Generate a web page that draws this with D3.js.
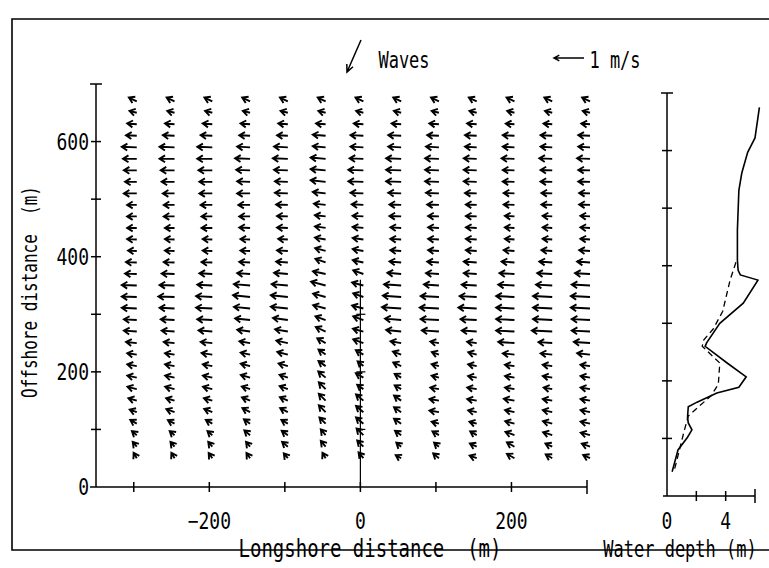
<!DOCTYPE html>
<html><head><meta charset="utf-8">
<script src="https://cdn.jsdelivr.net/npm/d3@7"></script>
<style>
html,body{margin:0;padding:0;background:#fff;}
svg{display:block;}
text{font-family:"DejaVu Sans Mono","Liberation Mono",monospace;fill:#000;white-space:pre;}
</style></head><body>
<svg id="chart" width="769" height="568"></svg>
<script>
// ---- data ----
const columnsX = [-300,-250,-200,-150,-100,-50,0,50,100,150,200,250,300];
const rowsY = [670,650,630,610,590,570,550,530,510,490,470,450,430,410,390,370,350,330,310,290,270,250,230,210,190,170,150,130,110,90,70,50];
// current speed (cm/s), one array per column, rows top to bottom
const speedCm = [
  [29,25,32,36,50,46,43,39,43,32,32,32,32,29,36,39,50,50,50,43,43,36,32,32,32,32,29,25,25,21,21,21],
  [29,25,32,39,50,50,46,43,39,36,36,32,32,32,36,43,50,54,50,46,43,36,32,32,32,32,29,29,25,21,21,21],
  [29,25,32,39,50,50,46,43,43,39,36,36,32,32,36,43,50,54,54,50,46,39,36,32,32,32,29,29,25,21,21,21],
  [29,25,32,36,43,50,46,43,43,39,36,36,32,32,36,43,54,57,54,50,43,36,32,32,32,29,29,29,25,25,21,21],
  [29,25,32,36,46,50,46,43,43,39,36,36,32,36,39,46,54,57,57,50,43,39,36,32,29,29,29,29,25,25,25,21],
  [29,25,32,43,43,50,50,50,43,39,36,36,36,36,36,43,50,43,43,36,36,32,29,29,32,32,32,32,29,25,25,21],
  [29,25,32,43,43,46,50,50,43,39,36,36,36,36,36,36,39,36,39,36,36,36,29,25,29,25,32,32,32,32,29,25],
  [29,25,32,43,43,50,50,50,43,39,39,36,36,36,39,46,57,61,64,54,50,36,29,29,25,25,29,29,29,25,21,21],
  [29,25,32,39,43,46,46,46,43,39,36,36,36,36,39,43,50,61,64,61,57,29,25,25,25,29,32,32,25,25,21,25],
  [29,25,32,39,39,43,43,43,39,36,36,36,36,36,43,43,50,57,61,54,50,32,29,29,29,32,32,29,25,25,25,25],
  [29,25,29,39,39,43,39,39,36,36,32,32,32,36,43,50,54,61,61,61,61,54,39,32,32,32,36,32,32,32,29,29],
  [29,25,29,39,39,43,39,39,36,36,32,32,32,36,43,50,54,64,64,64,68,46,39,32,32,29,32,32,32,32,25,25],
  [29,25,29,39,39,43,39,39,36,36,32,32,32,36,43,50,61,64,64,61,61,54,43,32,32,32,32,32,32,32,29,25]
];
// tilt of the current above the longshore (westward) direction, degrees
const tiltDeg = [
  [25,15,5,3,2,0,0,0,0,0,0,0,2,2,2,2,2,2,3,3,4,6,8,10,12,14,16,20,30,40,50,60],
  [25,15,5,3,2,0,0,0,0,0,0,0,2,2,2,2,2,2,3,3,4,6,8,10,12,14,16,20,28,40,50,60],
  [25,15,5,3,2,0,0,0,0,0,0,0,2,2,2,3,3,3,3,3,5,6,8,10,12,14,16,22,30,40,50,55],
  [25,15,5,3,3,2,2,2,0,0,0,2,2,2,3,4,5,6,6,6,8,10,12,14,16,18,22,28,35,40,50,55],
  [25,15,5,3,3,2,2,2,2,2,2,2,3,3,4,5,5,6,6,8,10,12,14,16,18,20,24,28,30,35,40,50],
  [25,15,5,5,5,5,5,6,6,6,6,8,10,15,20,12,15,15,15,20,25,30,35,35,40,45,45,45,45,50,50,60],
  [25,15,5,3,3,2,2,2,2,3,3,5,8,10,12,20,15,20,15,20,15,20,30,40,30,35,40,40,40,45,45,50],
  [25,15,5,3,3,2,2,2,2,2,2,3,3,4,5,5,4,4,4,5,6,10,20,25,30,30,35,35,35,35,40,30],
  [25,15,5,3,3,2,2,2,2,2,2,3,3,4,4,4,4,3,3,3,4,10,20,15,15,10,10,10,15,30,40,40],
  [25,15,5,3,3,2,2,2,2,2,2,3,3,4,4,4,3,3,3,3,4,8,15,12,10,10,10,12,15,30,25,20],
  [25,15,5,3,3,2,2,2,2,2,3,3,4,4,4,3,3,3,3,3,3,4,6,8,10,10,10,12,15,20,30,30],
  [25,15,5,3,3,2,2,2,2,2,3,3,4,4,4,3,3,3,3,3,3,4,6,8,10,10,10,12,15,18,25,30],
  [25,15,5,3,3,2,2,2,2,2,3,3,4,4,4,3,3,3,3,3,3,4,6,8,10,10,10,12,12,15,20,25]
];
const refSpeedCm = 100;           // legend arrow: 1 m/s
const xTicks = [-300,-200,-100,0,100,200];
const xTickLabels = [-200,0,200];
const yTicks = [100,200,300,400,500,600];
const yTickLabels = [0,200,400,600];
const centreTicks = [100,200,300];
// water depth profiles (offshore distance m, depth m)
const depthSolidY = [675,622,597,561,531,462,410,392,384,375,335,300,266,260,231,207,189,179,163,155,137,127,115,102,80,42];
const depthSolid  = [6.3,6.0,5.5,5.1,4.9,4.8,4.8,4.85,5.0,6.2,5.2,3.6,2.7,2.6,4.1,5.4,4.9,3.4,2.05,1.45,1.4,1.45,1.7,1.4,0.75,0.35];
const depthDashedY = [406,375,321,290,271,260,231,194,174,156,139,111,75,45];
const depthDashed  = [4.7,4.3,3.8,3.15,2.5,2.4,3.6,3.5,3.0,2.2,1.45,1.15,0.8,0.5];
const depthTicks = [2,4];
const depthTickLabels = [0,4];
const depthYTicks = [100,200,300,400,500,600];

// ---- drawing ----
const svg = d3.select("#chart");
const x = d3.scaleLinear().domain([-350,300]).range([96,587]);
const y = d3.scaleLinear().domain([0,700]).range([487,84]);
const len = d3.scaleLinear().domain([0,100]).range([0,30]);
const xD = d3.scaleLinear().domain([0,6]).range([667,755]);
const yD = d3.scaleLinear().domain([0,700]).range([496,93]);
const SW = 1.5;

// frame
svg.append("path").attr("d","M769,19 L12,19 L12,550 L769,550")
  .attr("fill","none").attr("stroke","#000").attr("stroke-width",1.6);

function arrowPath(x0,y0,L,tiltD,head,angDeg){
  const t = tiltD*Math.PI/180;
  const dx = -Math.cos(t), dy = -Math.sin(t);
  const x1 = x0 + dx*L, y1 = y0 + dy*L;
  const a = (angDeg||30)*Math.PI/180;
  const bx = -dx, by = -dy;
  const b1x = x1 + head*(bx*Math.cos(a) - by*Math.sin(a));
  const b1y = y1 + head*(bx*Math.sin(a) + by*Math.cos(a));
  const b2x = x1 + head*(bx*Math.cos(-a) - by*Math.sin(-a));
  const b2y = y1 + head*(bx*Math.sin(-a) + by*Math.cos(-a));
  return `M${x0},${y0}L${x1},${y1}M${b1x},${b1y}L${x1},${y1}L${b2x},${b2y}`;
}

// vectors
const vec = [];
columnsX.forEach((cx,i)=>rowsY.forEach((ry,j)=>{
  const s = speedCm[i][j];
  if (s!=null) vec.push({cx,ry,s,t:tiltDeg[i][j]});
}));
svg.append("g").selectAll("path").data(vec).join("path")
  .attr("d",d=>arrowPath(x(d.cx)+3,y(d.ry),len(d.s),d.t,6.5,32))
  .attr("fill","none").attr("stroke","#000").attr("stroke-width",1.9)
  .attr("stroke-linejoin","miter");

// main axes
const ax = svg.append("g").attr("stroke","#000").attr("stroke-width",SW).attr("fill","none");
ax.append("line").attr("x1",90).attr("x2",x(300)).attr("y1",y(0)).attr("y2",y(0));
ax.append("line").attr("x1",x(-350)).attr("x2",x(-350)).attr("y1",y(0)).attr("y2",y(700));
ax.selectAll(".xt").data(xTicks).join("line").attr("x1",d=>x(d)).attr("x2",d=>x(d)).attr("y1",y(0)-5).attr("y2",y(0)+5);
ax.append("line").attr("x1",x(300)).attr("x2",x(300)).attr("y1",y(0)-7).attr("y2",y(0)+7);
ax.selectAll(".yt").data(yTicks).join("line").attr("x1",x(-350)-5).attr("x2",x(-350)+5).attr("y1",d=>y(d)).attr("y2",d=>y(d));
ax.append("line").attr("x1",x(-350)-6).attr("x2",x(-350)+6).attr("y1",y(700)).attr("y2",y(700));
// centre line at x = 0
ax.append("line").attr("x1",x(0)).attr("x2",x(0)).attr("y1",y(0)).attr("y2",y(360)).attr("stroke-width",1.2);
ax.selectAll(".ct").data(centreTicks).join("line").attr("x1",x(0)-4).attr("x2",x(0)+5).attr("y1",d=>y(d)).attr("y2",d=>y(d)).attr("stroke-width",1.2);

function label(g, tx, ty, str, size, anchor, rot){
  const gg = g.append("g").attr("transform",`translate(${tx},${ty})${rot?` rotate(${rot})`:""} scale(1,1.3)`);
  gg.append("text").attr("x",0).attr("y",0).attr("text-anchor",anchor||"middle")
    .attr("font-size",size).text(str);
}
const tg = svg.append("g");
xTickLabels.forEach(v=>label(tg, x(v), 529, String(v).replace("-","\u2212"), 18, "middle"));
yTickLabels.forEach(v=>label(tg, 89, y(v)+8, String(v), 18, "end"));
label(tg, 370, 557, "Longshore distance  (m)", 19, "middle");
label(tg, 37, 292, "Offshore distance  (m)", 16, "middle", -90);
label(tg, 680, 557, "Water depth (m)", 17, "middle");
label(tg, 404, 68, "Waves", 17, "middle");
label(tg, 615, 68, "1 m/s", 17, "middle");

// waves arrow
svg.append("path").attr("d",(()=>{
  const x0=361,y0=40,x1=347,y1=72;
  const ang=Math.atan2(y0-y1,x0-x1), a=25*Math.PI/180, h=8;
  return `M${x0},${y0}L${x1},${y1}M${x1+h*Math.cos(ang+a)},${y1+h*Math.sin(ang+a)}L${x1},${y1}L${x1+h*Math.cos(ang-a)},${y1+h*Math.sin(ang-a)}`;
})()).attr("fill","none").attr("stroke","#000").attr("stroke-width",1.5);
// legend arrow 1 m/s
svg.append("path").attr("d",arrowPath(584,58,len(refSpeedCm),0,6,28))
  .attr("fill","none").attr("stroke","#000").attr("stroke-width",1.5);

// depth panel
const dg = svg.append("g").attr("stroke","#000").attr("stroke-width",SW).attr("fill","none");
dg.append("line").attr("x1",663).attr("x2",xD(6)).attr("y1",yD(0)).attr("y2",yD(0));
dg.append("line").attr("x1",xD(0)).attr("x2",xD(0)).attr("y1",yD(0)).attr("y2",yD(700));
dg.append("line").attr("x1",xD(0)-6).attr("x2",xD(0)+6).attr("y1",yD(700)).attr("y2",yD(700));
dg.selectAll(".dyt").data(depthYTicks).join("line").attr("x1",xD(0)-5).attr("x2",xD(0)+5).attr("y1",d=>yD(d)).attr("y2",d=>yD(d));
dg.selectAll(".dxt").data(depthTicks).join("line").attr("x1",d=>xD(d)).attr("x2",d=>xD(d)).attr("y1",yD(0)-5).attr("y2",yD(0)+5);
dg.append("line").attr("x1",xD(6)).attr("x2",xD(6)).attr("y1",yD(0)-7).attr("y2",yD(0)+7);
const lineD = d3.line().x(d=>xD(d[1])).y(d=>yD(d[0]));
dg.append("path").attr("d",lineD(depthSolidY.map((v,i)=>[v,depthSolid[i]]))).attr("stroke-width",1.6);
dg.append("path").attr("d",lineD(depthDashedY.map((v,i)=>[v,depthDashed[i]]))).attr("stroke-width",1.3).attr("stroke-dasharray","6,4");
depthTickLabels.forEach(v=>label(tg, xD(v), 529, String(v), 18, "middle"));
</script>
</body></html>
